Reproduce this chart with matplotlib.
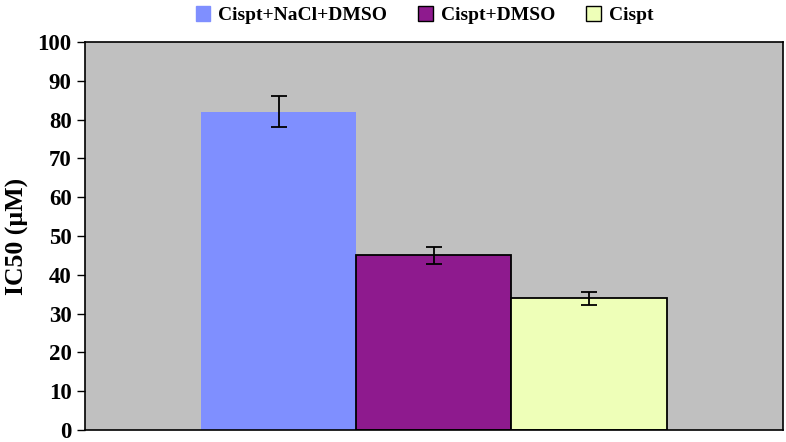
import numpy as np
import matplotlib.pyplot as plt
from matplotlib.patches import Patch

# IC50 values
groups = ["Cispt+NaCl+DMSO", "Cispt+DMSO", "Cispt"]
ic50 = [82.0, 45.0, 34.0]
err = [4.0, 2.2, 1.7]
colors = ["#7F8FFF", "#8E1A8E", "#EEFFB8"]
edges = ["none", "black", "black"]
yticks = np.arange(0, 101, 10)

plt.rcParams["font.family"] = ["Liberation Serif", "DejaVu Serif"]
plt.rcParams["font.weight"] = "bold"

fig = plt.figure(figsize=(7.86, 4.42), dpi=100)
ax = fig.add_axes([0.108, 0.027, 0.888, 0.878])
ax.set_facecolor("#C0C0C0")

x = np.arange(len(groups))
for i in range(len(groups)):
    ax.bar(x[i], ic50[i], width=1.0, color=colors[i], edgecolor=edges[i],
           linewidth=1.3, zorder=2)
ax.errorbar(x, ic50, yerr=err, fmt="none", ecolor="black", elinewidth=1.3,
            capsize=6, capthick=1.3, zorder=3)

ax.set_xlim(-1.25, 3.25)
ax.set_ylim(0, 100)
ax.set_yticks(yticks)
ax.set_yticklabels([str(t) for t in yticks], fontsize=16.5, fontweight="bold")
ax.set_xticks([])
ax.tick_params(axis="y", direction="out", length=6, width=1)
for s in ax.spines.values():
    s.set_linewidth(1.2)
ax.set_ylabel("IC50 (µM)", fontsize=18.5, fontweight="bold", labelpad=6)

handles = [Patch(facecolor=c, edgecolor=("black" if e != "none" else c), linewidth=1)
           for c, e in zip(colors, edges)]
fig.legend(handles, groups, loc="upper center", bbox_to_anchor=(0.54, 1.025),
           ncol=3, frameon=False, handlelength=0.75, handleheight=0.75,
           handletextpad=0.4, columnspacing=1.6, prop={"weight": "bold", "size": 14})

fig.savefig("out.png", dpi=100)
